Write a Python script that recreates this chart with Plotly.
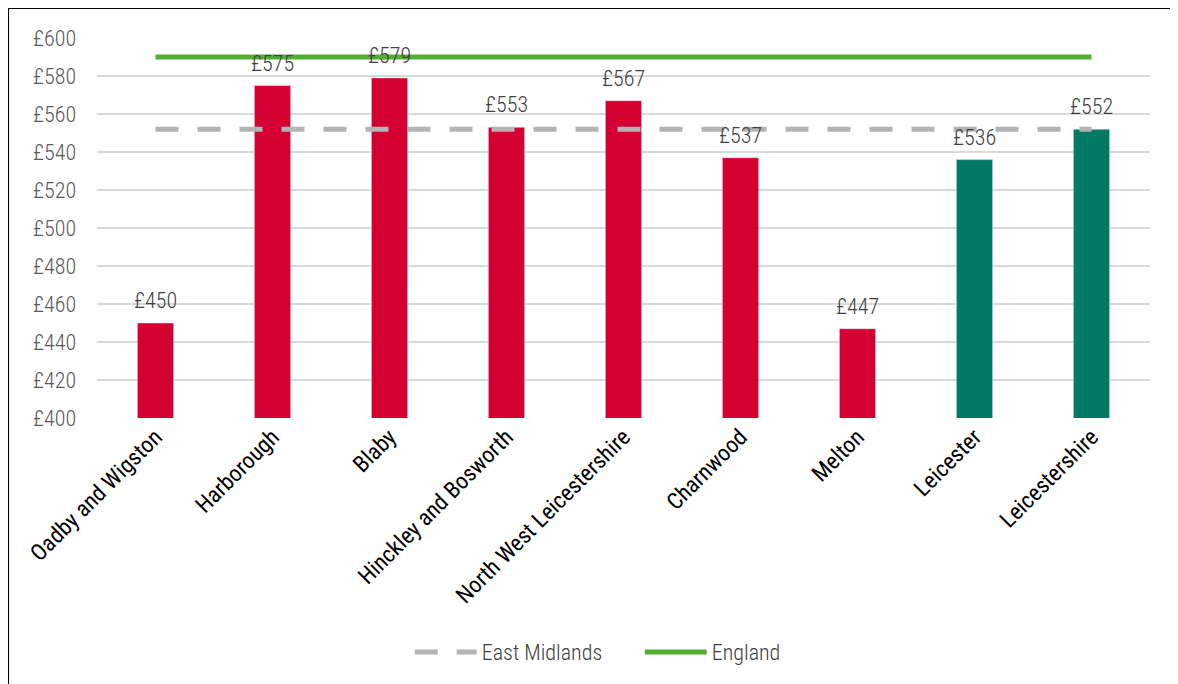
import plotly.graph_objects as go

categories = ["Oadby and Wigston", "Harborough", "Blaby", "Hinckley and Bosworth",
              "North West Leicestershire", "Charnwood", "Melton", "Leicester", "Leicestershire"]
values = [450, 575, 579, 553, 567, 537, 447, 536, 552]
bar_colors = ["#D50032"] * 7 + ["#007A64"] * 2
east_midlands = [552] * len(categories)
england = [590] * len(categories)

FONT = "Roboto Condensed, Liberation Sans Narrow, Arial Narrow, sans-serif"

fig = go.Figure()
fig.add_trace(go.Bar(
    x=categories, y=values, marker_color=bar_colors, width=0.31,
    showlegend=False, hoverinfo="x+y",
))
fig.add_trace(go.Scatter(
    x=categories, y=east_midlands, mode="lines", name="East Midlands",
    line=dict(color="#B4B4B4", width=5, dash="23px,19px"),
))
fig.add_trace(go.Scatter(
    x=categories, y=england, mode="lines", name="England",
    line=dict(color="#52AE32", width=5),
))

annotations = [dict(x=c, y=v, text=f"£{v}", showarrow=False, yanchor="bottom",
                    yshift=8, font=dict(size=22, color="#404040", family=FONT, weight=300))
               for c, v in zip(categories, values)]

fig.update_layout(
    width=1178, height=684,
    margin=dict(l=89, r=36, t=30, b=274),
    paper_bgcolor="white", plot_bgcolor="white",
    font=dict(family=FONT, color="#404040"),
    annotations=annotations,
    legend=dict(orientation="h", x=0.297, y=-0.616, xanchor="left", yanchor="middle",
                font=dict(size=22, color="#404040", family=FONT, weight=300),
                itemwidth=62, entrywidth=153, traceorder="normal"),
    xaxis=dict(tickangle=-45, tickfont=dict(size=23, color="#000000", family=FONT),
               showline=False, showgrid=False, ticks=""),
    yaxis=dict(range=[400, 600], dtick=20, tickprefix="£", showgrid=True,
               gridcolor="#D9D9D9", gridwidth=2, zeroline=False,
               tickfont=dict(size=22, color="#595959", family=FONT, weight=300), ticklen=0,
               ticksuffix="    "),
    shapes=[dict(type="path", xref="paper", yref="paper",
                 path="M -0.0845,-1 L -0.0845,1.079 L 1.2,1.079",
                 line=dict(color="black", width=2))],
)

fig.write_html("out.html")
